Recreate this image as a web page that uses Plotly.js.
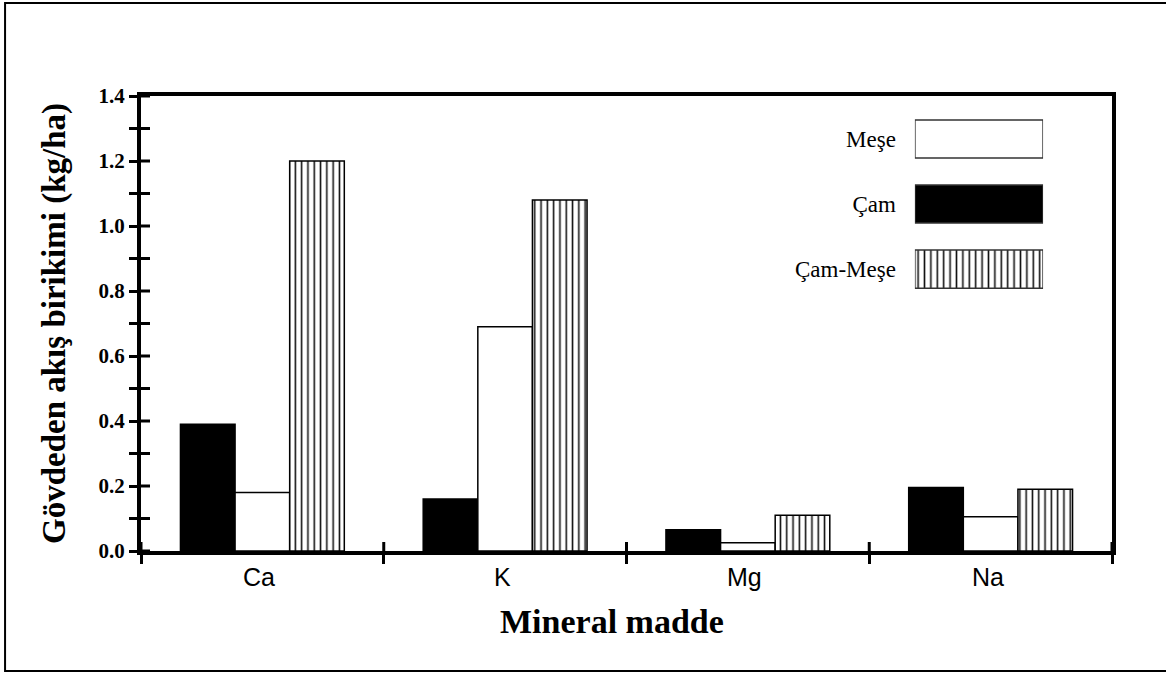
<!DOCTYPE html>
<html>
<head>
<meta charset="utf-8">
<script src="https://cdn.plot.ly/plotly-3.0.1.min.js"></script>
<style>
  html, body { margin: 0; padding: 0; background: #fff; }
  #chart { width: 1166px; height: 673px; }
</style>
</head>
<body>
<div id="chart"></div>
<script>
// Gövdeden akış ile taşınan mineral madde birikimi (kg/ha)
const minerals = ['Ca', 'K', 'Mg', 'Na'];
const cam      = [0.39, 0.16, 0.065, 0.195];
const mese     = [0.18, 0.69, 0.025, 0.105];
const camMese  = [1.20, 1.08, 0.11, 0.19];

// Legend entries (top to bottom)
const legendNames = ['Meşe', 'Çam', 'Çam-Meşe'];

// y ticks every 0.1, labelled every 0.2
const yTickVals = [0, 0.1, 0.2, 0.3, 0.4, 0.5, 0.6, 0.7, 0.8, 0.9, 1.0, 1.1, 1.2, 1.3, 1.4];
const yTickText = ['0.0', '', '0.2', '', '0.4', '', '0.6', '', '0.8', '', '1.0', '', '1.2', '', '1.4'];

// mineral slots on a numeric axis; ticks sit on the slot boundaries
const slots     = minerals.map((_, i) => i);
const slotEdges = [-0.5, 0.5, 1.5, 2.5, 3.5];

const serif = 'Liberation Serif, Times New Roman, serif';
const sans  = 'Liberation Sans, Arial, sans-serif';

const plotW = 1166 - 141 - 54;
const plotH = 673 - 96 - 122;
const innerTick = 9;   // px the ticks reach into the plot area

const barLine = { color: 'black', width: 1.5 };
const keyLine = { color: '#333', width: 1.5 };
const hatch = (size) => ({ shape: '|', fgcolor: '#111', bgcolor: 'white', size: size, solidity: 0.25 });

// one key swatch per series, on its own small panel
function keySwatch(label, fill, pattern) {
  const marker = { color: fill, line: keyLine };
  if (pattern) marker.pattern = pattern;
  return {
    type: 'bar', orientation: 'h', x: [1], y: [label], width: 0.585,
    marker: marker, xaxis: 'x3', yaxis: 'y3', showlegend: false, hoverinfo: 'skip'
  };
}

const traces = [
  {
    type: 'bar', name: 'Çam', x: slots, y: cam, text: minerals, hoverinfo: 'text+y+name', textposition: 'none',
    marker: { color: 'black', line: barLine }, showlegend: false
  },
  {
    type: 'bar', name: 'Meşe', x: slots, y: mese, text: minerals, hoverinfo: 'text+y+name', textposition: 'none',
    marker: { color: 'white', line: barLine }, showlegend: false
  },
  {
    type: 'bar', name: 'Çam-Meşe', x: slots, y: camMese, text: minerals, hoverinfo: 'text+y+name', textposition: 'none',
    marker: { color: 'white', line: barLine, pattern: hatch(6.3) }, showlegend: false
  },
  keySwatch('Meşe', 'white', null),
  keySwatch('Çam', 'black', null),
  keySwatch('Çam-Meşe', 'white', hatch(6.4))
];

// mineral names centred under each group of bars
const slotLabels = minerals.map((m, i) => ({
  xref: 'x', yref: 'paper', x: slots[i] - 0.012, y: -0.057, yanchor: 'middle', xanchor: 'center',
  text: m, showarrow: false, font: { family: sans, size: 25, color: 'black' }
}));

// inner halves of the axis ticks, so each tick crosses its axis line
const tickStroke = { color: 'black', width: 3 };
const yInnerTicks = yTickVals.map(v => ({
  type: 'line', layer: 'above', xref: 'paper', yref: 'y',
  x0: 0, x1: innerTick / plotW, y0: v, y1: v, line: tickStroke
}));
const xInnerTicks = slotEdges.map(v => ({
  type: 'line', layer: 'above', xref: 'x', yref: 'paper',
  x0: v, x1: v, y0: 0, y1: innerTick / plotH, line: tickStroke
}));

const layout = {
  width: 1166, height: 673,
  margin: { l: 141, r: 54, t: 96, b: 122 },
  paper_bgcolor: 'white', plot_bgcolor: 'white',
  barmode: 'group', bargap: 0.325, bargroupgap: 0,
  showlegend: false,
  xaxis: {
    type: 'linear', range: [-0.5, 3.5],
    tickmode: 'array', tickvals: slotEdges, showticklabels: false,
    ticks: 'outside', ticklen: 9, tickwidth: 3, tickcolor: 'black',
    showline: true, linewidth: 4, linecolor: 'black', mirror: true,
    showgrid: false, zeroline: false,
    automargin: false, fixedrange: true
  },
  yaxis: {
    range: [0, 1.4], tickmode: 'array', tickvals: yTickVals, ticktext: yTickText,
    ticks: 'outside', ticklen: 8, tickwidth: 3, tickcolor: 'black',
    showline: true, linewidth: 4, linecolor: 'black', mirror: true,
    showgrid: false, zeroline: false,
    tickfont: { family: serif, size: 21, color: 'black', weight: 'bold' },
    title: { text: 'Gövdeden akış birikimi (kg/ha)', font: { family: serif, size: 33, color: 'black', weight: 'bold' }, standoff: 24 },
    automargin: false, fixedrange: true
  },
  xaxis3: {
    domain: [0.797, 0.929], anchor: 'y3', range: [0, 1],
    visible: false, fixedrange: true
  },
  yaxis3: {
    domain: [0.548, 0.977], anchor: 'x3', type: 'category', categoryarray: legendNames,
    range: [2.5, -0.5], showline: false, showgrid: false, zeroline: false, ticks: '',
    ticklabelstandoff: 18,
    tickfont: { family: serif, size: 23, color: 'black' }, fixedrange: true
  },
  annotations: slotLabels.concat([
    {
      xref: 'paper', yref: 'paper', x: 0.485, y: -0.154, xanchor: 'center', yanchor: 'middle',
      text: 'Mineral madde', showarrow: false,
      font: { family: serif, size: 34, color: 'black', weight: 'bold' }
    }
  ]),
  shapes: [
    {
      type: 'rect', xref: 'paper', yref: 'paper', layer: 'below',
      x0: -0.140, x1: 1.06, y0: -0.2637, y1: 1.2044,
      line: { color: 'black', width: 2 }, fillcolor: 'rgba(0,0,0,0)'
    }
  ].concat(yInnerTicks, xInnerTicks)
};

Plotly.newPlot('chart', traces, layout, { staticPlot: true, displayModeBar: false });
</script>
</body>
</html>
